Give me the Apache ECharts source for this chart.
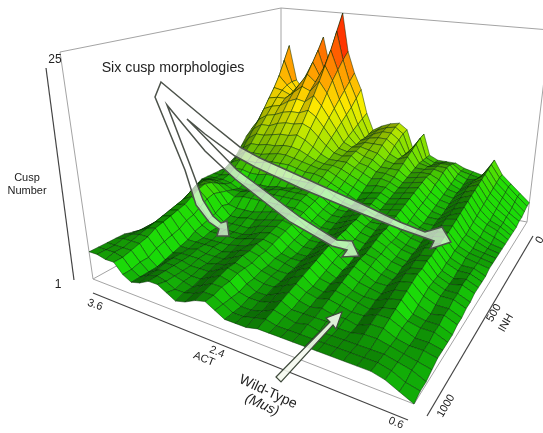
<!DOCTYPE html>
<html><head><meta charset="utf-8">
<script src="https://cdn.jsdelivr.net/npm/echarts@6/dist/echarts.min.js"></script>
<style>html,body{margin:0;padding:0;background:#fff}#c{width:543px;height:433px}</style>
</head><body><div id="c"></div>
<script>
const zAxisTicks = ['25', '1'];
const actTicks = ['3.6', '2.4', '0.6'];
const inhTicks = ['0', '500', '1000'];
const zTitle = ['Cusp', 'Number'];
// surface height, % of the Cusp Number axis. Rows: INH 0 -> 1000, columns: ACT 3.6 -> 0.6
const surfaceRows = [
[40,78,58,52,66,85,68,100,78,66,57,44,35,38,40,41,38,28,37,26,24,24,24,22,21,20,29,22,18,14,10],
[42,70,58,52,63,78,66,90,74,62,53,42,34,37,39,40,37,28,36,26,24,25,25,22,21,20,28,22,18,14,10],
[42,62,57,53,61,72,64,80,69,58,49,40,33,36,38,38,35,28,34,26,24,26,26,22,20,21,27,21,17,13,9],
[41,56,55,53,59,66,62,72,64,54,46,38,33,35,36,36,33,28,32,26,25,26,26,21,19,22,26,20,16,12,8],
[39,51,52,52,56,60,58,64,58,50,43,36,32,34,34,34,30,28,30,25,25,26,25,20,18,22,25,19,15,11,8],
[37,46,48,49,52,54,53,57,52,46,40,34,32,33,32,31,28,27,28,24,25,25,23,19,18,22,24,18,14,11,7],
[35,41,44,45,47,48,48,50,47,42,37,32,31,32,30,29,26,26,26,23,24,25,22,18,17,21,23,17,13,10,7],
[32,37,40,40,42,43,43,44,42,38,34,31,30,31,28,27,25,25,24,22,23,24,20,17,16,20,22,16,12,10,7],
[28,33,36,36,37,38,38,39,37,34,31,29,29,29,27,25,23,24,23,21,22,23,19,16,15,19,21,15,12,10,7],
[24,29,32,32,33,33,34,34,33,31,29,28,28,27,25,23,21,22,22,20,21,22,18,15,14,18,20,14,11,9,7],
[22,26,29,29,29,30,31,31,30,29,28,27,27,25,23,21,19,20,21,19,20,21,17,14,14,17,19,13,10,8,7],
[20,24,26,26,26,27,28,28,28,27,26,26,25,23,21,19,17,19,20,18,19,20,16,13,13,17,18,12,10,8,7],
[20,22,23,23,22,22,23,23,23,23,23,23,23,22,19,17,16,18,19,17,18,19,15,13,12,16,17,12,9,8,7],
[20,20,21,20,18,18,19,19,20,20,21,21,22,20,17,15,15,17,18,16,17,18,14,12,12,15,16,11,9,8,7],
[20,20,20,19,17,17,18,19,20,21,21,21,21,19,16,14,14,16,18,15,15,17,14,12,11,15,16,11,9,8,7],
[20,21,21,20,18,18,19,20,20,20,20,20,20,18,15,13,13,15,17,15,14,16,13,11,10,14,15,10,8,8,6],
[18,22,23,22,19,17,18,18,18,18,18,18,18,17,14,12,12,14,17,14,13,16,13,11,10,14,15,10,8,8,6],
[15,21,24,24,20,15,14,14,14,15,16,17,17,16,13,11,11,13,16,13,12,15,13,10,9,13,14,9,7,8,6],
[13,19,23,25,21,16,12,12,13,13,14,15,16,15,12,10,10,12,16,13,11,14,12,10,9,13,14,9,7,8,6],
[11,17,22,24,20,14,11,11,11,11,13,14,15,14,11,9,9,12,15,12,10,13,12,9,8,12,13,9,7,7,5],
[9,15,20,22,18,13,10,10,10,10,11,13,14,13,10,8,8,11,15,12,9,13,11,9,8,12,13,9,7,7,5],
[8,14,19,20,16,12,10,10,10,10,11,12,13,12,9,8,8,11,14,11,9,12,10,8,8,11,12,8,6,6,4],
[8,13,18,19,15,11,9,9,9,9,10,11,13,11,9,8,7,10,13,10,8,11,9,8,7,10,11,7,5,6,4],
[9,13,17,18,13,9,9,9,9,8,9,11,12,11,8,7,7,10,12,9,8,10,8,7,7,9,10,6,5,5,3],
[10,13,16,17,12,8,8,9,8,8,8,10,12,10,8,7,6,9,11,8,7,9,8,7,6,8,9,6,5,5,3],
[11,13,15,16,11,7,8,8,8,7,8,9,11,10,7,6,6,8,10,8,7,8,7,6,6,8,8,6,4,4,3],
[12,13,14,14,10,6,8,8,7,7,7,9,11,10,7,5,5,7,9,7,6,7,6,6,5,7,7,5,4,4,3],
[12,13,13,13,8,5,8,8,7,6,6,8,10,9,6,5,5,6,8,6,6,6,6,5,5,6,6,5,4,3,2],
[12,12,12,12,8,5,7,8,7,6,5,7,9,9,6,4,4,5,7,6,5,6,5,5,5,5,5,5,4,3,1],
[12,12,12,11,7,5,7,8,7,5,5,6,8,8,6,4,4,5,6,5,5,5,5,5,5,5,5,5,4,2,1],
[12,12,11,11,7,5,6,8,8,6,4,5,7,8,6,4,4,4,5,5,5,5,5,5,5,5,5,5,4,2,0]
];

// camera: screen position of the box corners (L = 3.6/1000, F = 0.6/1000, R = 0.6/0, B = 3.6/0)
const floorCorners = { B:[281,175], R:[527,222], F:[414,404], L:[93,279] };
const topCorners   = { B:[281,8],   R:[550,30],  F:[440,85],  L:[60,52] };

function squareToQuad(q){
  const [x0,y0]=q.B,[x1,y1]=q.R,[x2,y2]=q.F,[x3,y3]=q.L;
  const dx1=x1-x2,dx2=x3-x2,sx=x0-x1+x2-x3,dy1=y1-y2,dy2=y3-y2,sy=y0-y1+y2-y3;
  const d=dx1*dy2-dx2*dy1;
  const g=(sx*dy2-dx2*sy)/d,h=(dx1*sy-sx*dy1)/d;
  return {a:x1-x0+g*x1,b:x3-x0+h*x3,c:x0,d:y1-y0+g*y1,e:y3-y0+h*y3,f:y0,g,h};
}
const floorH=squareToQuad(floorCorners), topH=squareToQuad(topCorners);
const ap=(m,u,v)=>{const w=m.g*u+m.h*v+1;return [(m.a*u+m.b*v+m.c)/w,(m.d*u+m.e*v+m.f)/w];};
function project(u,v,z){
  const p=ap(floorH,u,v),q=ap(topH,u,v);
  return [p[0]+(q[0]-p[0])*z,p[1]+(q[1]-p[1])*z];
}
const nB=surfaceRows.length, nA=surfaceRows[0].length;
const H=(a,b)=>surfaceRows[b][a];

const ramp=[[0,[20,215,10]],[0.2,[35,222,5]],[0.33,[150,225,0]],[0.5,[252,238,0]],[0.68,[255,150,0]],[0.88,[255,40,0]],[1,[255,0,0]]];
function colorFor(h,shade){
  let c=ramp[ramp.length-1][1];
  for(let i=1;i<ramp.length;i++){ if(h<=ramp[i][0]){const t=(h-ramp[i-1][0])/(ramp[i][0]-ramp[i-1][0]);
    c=ramp[i-1][1].map((x,k)=>x+(ramp[i][1][k]-x)*t);break;} }
  return 'rgb('+c.map(x=>Math.round(x*shade)).join(',')+')';
}
const cells=[];
for(let b=0;b<nB-1;b++) for(let a=0;a<nA-1;a++) cells.push([a,b]);

const surfaceItem=(params,api)=>{
  const a=api.value(0),b=api.value(1);
  const corners=[[a,b],[a+1,b],[a+1,b+1],[a,b+1]];
  const pts=corners.map(([i,j])=>api.coord(project(i/(nA-1),j/(nB-1),H(i,j)/100)));
  const mean=(H(a,b)+H(a+1,b)+H(a+1,b+1)+H(a,b+1))/400;
  const dropA=Math.max(-5,Math.min(5,(H(a,b)+H(a,b+1)-H(a+1,b)-H(a+1,b+1))/2));
  const dropB=(H(a,b)+H(a+1,b)-H(a,b+1)-H(a+1,b+1))/2;
  let shade=Math.max(0.42,Math.min(1,0.6+0.11*dropA+0.06*dropB));
  shade+=(1-shade)*Math.min(1,mean*1.6)*0.6;
  return {type:'polygon',shape:{points:pts},style:{fill:colorFor(mean,shade),stroke:'rgba(0,40,0,0.68)',lineWidth:0.7}};
};

const boxEdges=[
 [[0,1,1],[0,0,1]],[[0,0,1],[1,0,1]],[[0,1,0],[0,1,1]],[[0,0,0],[0,0,1]],[[1,0,0],[1,0,1]],
 [[0,1,0],[1,1,0]],[[1,1,0],[1,0,0]],[[0,1,0],[0,0,0]],[[0,0,0],[1,0,0]]];
const boxItem=(params,api)=>{
  const e=boxEdges[api.value(0)];
  const p=api.coord(project(...e[0])),q=api.coord(project(...e[1]));
  return {type:'line',shape:{x1:p[0],y1:p[1],x2:q[0],y2:q[1]},style:{stroke:'#a4a4a4',lineWidth:1}};
};

const txt=(t,x,y,rot,size,italic)=>({type:'text',x,y,rotation:(rot||0)*Math.PI/180,z:50,
  style:{text:t,fill:'#222',font:(italic?'italic ':'')+(size||11)+'px "Liberation Sans",Arial,sans-serif',textAlign:'center',textVerticalAlign:'middle'}});
const axisLine=(x1,y1,x2,y2)=>({type:'line',z:40,shape:{x1,y1,x2,y2},style:{stroke:'#444',lineWidth:1.2}});
const bigArrow=[[161,82],[210,123],[240,147],[260,158],[300,176],[360,203],[400,222],[425,232],[442,227],[451,242],[430,249],[434,241],[400,229],[355,211],[300,188],[255,167],[235,156],[205,134],[187,119],
 [237,170],[260,187],[300,217],[337,240],[352,241],[359,256],[342,257],[347,250],[332,246],[290,222],[258,197],[235,179],[205,151],[167,105],
 [190,165],[203,200],[213,216],[221,223],[227,221],[229,236],[217,236],[219,229],[209,222],[196,205],[185,170],[155,97]];
const wildArrow=[[276,377],[330,322],[326,318],[342,312],[336,329],[333,325],[281,382]];
const graphics=[
 axisLine(46,68,74,280),axisLine(93,293,408,420),axisLine(427,416,533,236),
 txt(zAxisTicks[0],55,60,0,12),txt(zAxisTicks[1],58,285,0,12),
 txt(zTitle[0],27,178,0,11),txt(zTitle[1],27,191,0,11),
 txt(actTicks[0],95,305,-20,11),txt(actTicks[1],217,352,-22,11),txt('ACT',204,359,-22,11),txt(actTicks[2],396,423,-22,11),
 txt(inhTicks[0],540,240,60,11),txt(inhTicks[1],494,313,60,11),txt(inhTicks[2],446,406,60,11),txt('INH',506,323,60,11),
 txt('Six cusp morphologies',173,68,0,14.2),
 txt('Wild-Type',268,392,-25,14),txt('(Mus)',262,405,-25,14,true),
 {type:'polygon',z:45,shape:{points:bigArrow},style:{fill:'rgba(255,255,255,0.68)',stroke:'#4c524a',lineWidth:1.5,lineJoin:'miter'}},
 {type:'polygon',z:45,shape:{points:wildArrow},style:{fill:'rgba(245,250,240,0.9)',stroke:'#3f4a3c',lineWidth:1.2}}
];

const chart=echarts.init(document.getElementById('c'),null,{renderer:'canvas'});
chart.setOption({
 animation:false,backgroundColor:'#fff',
 grid:{left:0,right:0,top:0,bottom:0},
 xAxis:{type:'value',min:0,max:543,show:false},
 yAxis:{type:'value',min:0,max:433,inverse:true,show:false},
 graphic:{elements:graphics},
 series:[
  {type:'custom',silent:true,z:1,data:boxEdges.map((e,i)=>[i]),renderItem:boxItem,encode:{x:0,y:0},clip:false},
  {type:'custom',silent:true,z:2,data:cells,renderItem:surfaceItem,encode:{x:0,y:1},clip:false}
 ]
});
</script></body></html>
